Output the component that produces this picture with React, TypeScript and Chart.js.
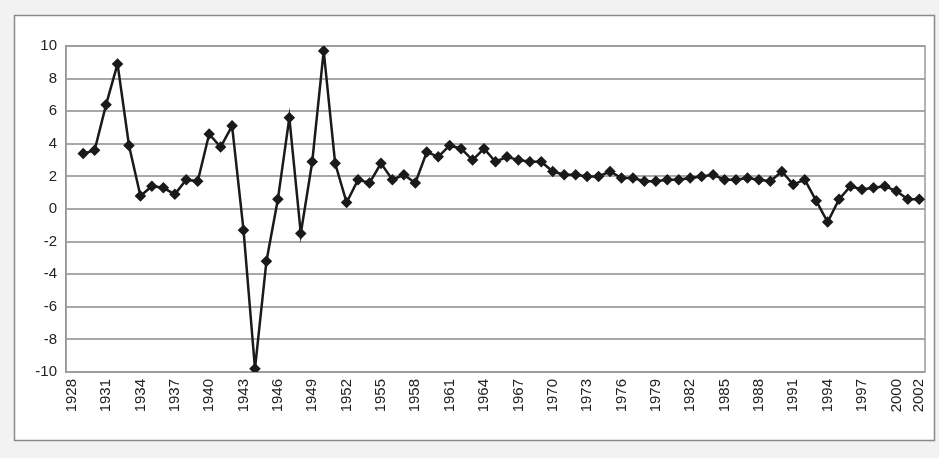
import React, { useEffect, useRef } from "react";
import { Chart, registerables } from "chart.js";

Chart.register(...registerables);

const years: string[] = [];
for (let y = 1928; y <= 2002; y++) years.push(String(y));

// 1928 has no value (growth series starts 1929)
const growth: (number | null)[] = [
  null,
  3.4, 3.6, 6.4, 8.9, 3.9, 0.8, 1.4, 1.3, 0.9, 1.8, 1.7,
  4.6, 3.8, 5.1, -1.3, -9.8, -3.2, 0.6, 5.6, -1.5, 2.9,
  9.7, 2.8, 0.4, 1.8, 1.6, 2.8, 1.8, 2.1, 1.6, 3.5,
  3.2, 3.9, 3.7, 3.0, 3.7, 2.9, 3.2, 3.0, 2.9, 2.9,
  2.3, 2.1, 2.1, 2.0, 2.0, 2.3, 1.9, 1.9, 1.7, 1.7,
  1.8, 1.8, 1.9, 2.0, 2.1, 1.8, 1.8, 1.9, 1.8, 1.7,
  2.3, 1.5, 1.8, 0.5, -0.8, 0.6, 1.4, 1.2, 1.3, 1.4,
  1.1, 0.6, 0.6,
];

const yMin = -10;
const yMax = 10;
const yStep = 2;

const framePlugin = {
  id: "frame",
  beforeDraw(chart: any) {
    const ctx = chart.ctx;
    ctx.save();
    ctx.fillStyle = "#f2f2f2";
    ctx.fillRect(0, 0, chart.width, chart.height);
    ctx.fillStyle = "#ffffff";
    ctx.fillRect(14, 15, 921, 426);
    ctx.strokeStyle = "#8a8a8a";
    ctx.lineWidth = 1.5;
    ctx.strokeRect(14.5, 15.5, 920, 425);
    ctx.restore();
  },
  beforeDatasetsDraw(chart: any) {
    const { ctx, chartArea } = chart;
    ctx.save();
    ctx.strokeStyle = "#9a9a9a";
    ctx.lineWidth = 1.5;
    ctx.strokeRect(chartArea.left, chartArea.top, chartArea.right - chartArea.left, chartArea.bottom - chartArea.top);
    ctx.restore();
  },
};

export default function App() {
  const ref = useRef<HTMLCanvasElement | null>(null);
  useEffect(() => {
    document.body.style.margin = "0";
    if (!ref.current) return;
    const chart = new Chart(ref.current, {
      type: "line",
      data: {
        labels: years,
        datasets: [
          {
            data: growth,
            borderColor: "#1a1a1a",
            borderWidth: 2.5,
            pointStyle: "rectRot",
            pointRadius: 4,
            pointBackgroundColor: "#1a1a1a",
            pointBorderColor: "#1a1a1a",
            tension: 0,
          },
        ],
      },
      options: {
        responsive: false,
        animation: false,
        layout: { padding: { top: 46, right: 14, left: 0, bottom: 0 } },
        plugins: { legend: { display: false }, tooltip: { enabled: false } },
        scales: {
          x: {
            type: "category",
            offset: true,
            grid: { display: false, drawTicks: false },
            border: { display: false },
            afterFit(scale: any) {
              scale.height = 86;
              scale.paddingLeft = 0;
              scale.paddingRight = 0;
            },
            ticks: {
              autoSkip: false,
              maxRotation: 90,
              minRotation: 90,
              padding: 7,
              color: "#222",
              font: { family: "'Liberation Sans', Arial, sans-serif", size: 15 },
              callback: function (_v: any, i: number) {
                return i % 3 === 0 || i === years.length - 1 ? years[i] : "";
              },
            },
          },
          y: {
            min: yMin,
            max: yMax,
            afterFit(scale: any) {
              scale.width = 66;
              scale.paddingTop = 0;
              scale.paddingBottom = 0;
            },
            grid: { color: "#a8a8a8", lineWidth: 2, drawTicks: false },
            border: { display: true, color: "#8a8a8a", width: 1.5 },
            ticks: {
              stepSize: yStep,
              padding: 9,
              color: "#222",
              font: { family: "'Liberation Sans', Arial, sans-serif", size: 15 },
            },
          },
        },
      },
      plugins: [framePlugin],
    });
    return () => chart.destroy();
  }, []);
  return (
    <div style={{ width: 939, height: 458 }}>
      <canvas ref={ref} width={939} height={458} />
    </div>
  );
}
